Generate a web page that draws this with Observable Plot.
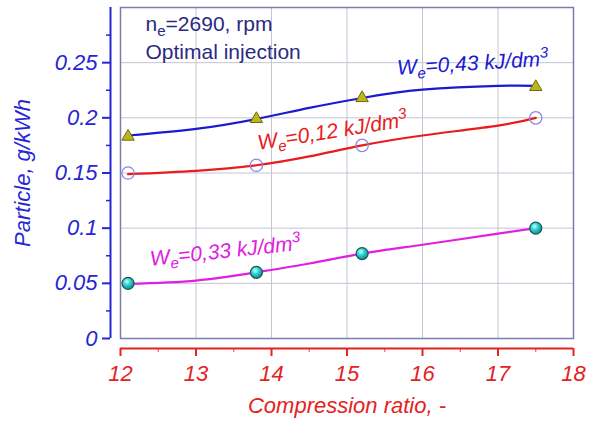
<!DOCTYPE html>
<html>
<head>
<meta charset="utf-8">
<script src="https://cdn.jsdelivr.net/npm/d3@7"></script>
<script src="https://cdn.jsdelivr.net/npm/@observablehq/plot@0.6"></script>
<style>
  html, body { margin: 0; padding: 0; background: #fff; }
  #chart { width: 597px; height: 421px; }
</style>
</head>
<body>
<div id="chart"></div>
<script>
// ---- data ----
const xMarkers = [12.1, 13.8, 15.2, 17.5];
const particle043 = [0.183, 0.199, 0.218, 0.228];
const particle012 = [0.150, 0.157, 0.175, 0.200];
const particle033 = [0.050, 0.060, 0.077, 0.100];

const xFit = [12.1, 13, 13.8, 14.5, 15.2, 16, 17, 17.5];
const fit043 = [0.184, 0.190, 0.199, 0.209, 0.218, 0.2255, 0.229, 0.229];
const fit012 = [0.149, 0.152, 0.157, 0.165, 0.175, 0.184, 0.193, 0.200];
const fit033 = [0.0495, 0.0525, 0.060, 0.068, 0.077, 0.085, 0.095, 0.100];

const xDomain = [12, 18];
const yDomain = [0, 0.3];
const xTicks = [12, 13, 14, 15, 16, 17, 18];
const xMinorTicks = [12.5, 13.5, 14.5, 15.5, 16.5, 17.5];
const yTicks = [0, 0.05, 0.1, 0.15, 0.2, 0.25];
const yTickLabels = ["0", "0.05", "0.1", "0.15", "0.2", "0.25"];
const yMinorTicks = [0.025, 0.075, 0.125, 0.175, 0.225, 0.275];

const seriesLabels = [
  {text: "W_e=0,43 kJ/dm^3", x: 15.67, y: 0.239, rotate: -3.5, color: "#1a1ad0"},
  {text: "W_e=0,12 kJ/dm^3", x: 13.83, y: 0.171, rotate: -9, color: "#e81c1c"},
  {text: "W_e=0,33 kJ/dm^3", x: 12.40, y: 0.066, rotate: -6, color: "#e020e0"}
];
const noteLines = ["n_e=2690, rpm", "Optimal injection"];
const xLabel = "Compression ratio, -";
const yLabel = "Particle, g/kWh";

// ---- tables ----
const pts = (ys) => xMarkers.map((x, i) => ({x, y: ys[i]}));
const fit = (ys) => xFit.map((x, i) => ({x, y: ys[i]}));

const FONT = "Liberation Sans, Arial, sans-serif";
const BLUE = "#2626d4";
const RED = "#e52222";
const GRID = "#c4c4d4";

const chart = Plot.plot({
  width: 597,
  height: 421,
  marginLeft: 120,
  marginRight: 24,
  marginTop: 7,
  marginBottom: 83,
  style: {fontFamily: FONT, background: "#fff", overflow: "visible"},
  x: {domain: xDomain, axis: null},
  y: {domain: yDomain, axis: null},
  marks: [
    Plot.gridX(xTicks.slice(1, -1), {stroke: GRID, strokeOpacity: 1, strokeWidth: 1}),
    Plot.gridY(yTicks.slice(1), {stroke: GRID, strokeOpacity: 1, strokeWidth: 1}),
    Plot.frame({stroke: "#7c7cae", strokeWidth: 1.5}),

    // y axis (offset left, blue)
    Plot.ruleX([xDomain[0]], {y1: yDomain[0], y2: yDomain[1], dx: -10, stroke: BLUE, strokeWidth: 2}),
    Plot.axisY(yTicks, {anchor: "left", dx: -10, tickSize: 8, tickPadding: 5, stroke: BLUE, strokeWidth: 2,
      tickFormat: (d) => yTickLabels[yTicks.indexOf(d)], fill: BLUE, fontSize: 22, fontStyle: "italic", label: null}),
    Plot.axisY(yMinorTicks, {anchor: "left", dx: -10, tickSize: 4, stroke: BLUE, strokeWidth: 1.5, text: null, label: null}),

    // x axis (offset down, red)
    Plot.ruleY([yDomain[0]], {x1: xDomain[0], x2: xDomain[1], dy: 10, stroke: RED, strokeWidth: 2}),
    Plot.axisX(xTicks, {anchor: "bottom", dy: 10, tickSize: 8, tickPadding: 9, stroke: RED, strokeWidth: 2,
      tickFormat: (d) => String(d), fill: RED, fontSize: 22, fontStyle: "italic", label: null}),
    Plot.axisX(xMinorTicks, {anchor: "bottom", dy: 10, tickSize: 4, stroke: RED, strokeWidth: 1.2, strokeOpacity: 0.7, text: null, label: null}),

    // axis titles
    Plot.text([yLabel], {frameAnchor: "left", dx: -98, rotate: -90, fill: BLUE, fontSize: 22, fontStyle: "italic", textAnchor: "middle", lineAnchor: "middle"}),
    Plot.text([xLabel], {frameAnchor: "bottom", dy: 67, fill: RED, fontSize: 22, fontStyle: "italic", textAnchor: "middle", lineAnchor: "middle"}),

    // notes
    Plot.text([noteLines[0]], {frameAnchor: "top-left", dx: 25, dy: 9, fill: "#2a2a80", fontSize: 21, textAnchor: "start", lineAnchor: "top"}),
    Plot.text([noteLines[1]], {frameAnchor: "top-left", dx: 25, dy: 37, fill: "#2a2a80", fontSize: 21, textAnchor: "start", lineAnchor: "top"}),

    // fitted lines
    Plot.line(fit(fit043), {x: "x", y: "y", curve: "natural", stroke: "#1a1ad0", strokeWidth: 2.2}),
    Plot.line(fit(fit012), {x: "x", y: "y", curve: "natural", stroke: "#e81c1c", strokeWidth: 2.2}),
    Plot.line(fit(fit033), {x: "x", y: "y", curve: "natural", stroke: "#e020e0", strokeWidth: 2.2}),

    // markers
    Plot.dot(pts(particle043), {x: "x", y: "y", symbol: "triangle", r: 4.6, fill: "#bdb51c", stroke: "#6e6a10", strokeWidth: 1}),
    Plot.dot(pts(particle012), {x: "x", y: "y", symbol: "circle", r: 6.2, fill: "none", stroke: "#8a8ade", strokeWidth: 1.3}),
    Plot.dot(pts(particle033), {x: "x", y: "y", symbol: "circle", r: 6, fill: "url(#sphere)", stroke: "#1c5858", strokeWidth: 1.2}),

    // series labels
    ...seriesLabels.map((s) => Plot.text([s], {x: "x", y: "y", text: "text", rotate: s.rotate, fill: s.color,
      fontSize: 21, fontStyle: "italic", textAnchor: "start", lineAnchor: "bottom"}))
  ]
});

// gradient for the sphere markers
const defs = d3.select(chart).insert("defs", ":first-child");
const g = defs.append("radialGradient").attr("id", "sphere").attr("cx", "40%").attr("cy", "35%").attr("r", "65%");
g.append("stop").attr("offset", "0%").attr("stop-color", "#c8ffff");
g.append("stop").attr("offset", "45%").attr("stop-color", "#30d4d4");
g.append("stop").attr("offset", "100%").attr("stop-color", "#108a8a");

// subscripts (_x) and superscripts (^x) as real tspans
d3.select(chart).selectAll("text").each(function () {
  const el = this;
  if (el.querySelector("tspan")) {
    el.querySelectorAll("tspan").forEach((t) => fix(t));
  } else fix(el);
  function fix(node) {
    const s = node.textContent;
    if (!/[_^]/.test(s)) return;
    node.textContent = "";
    let i = 0, buf = "";
    const flush = () => { if (buf) { const t = document.createElementNS("http://www.w3.org/2000/svg", "tspan"); t.textContent = buf; node.appendChild(t); buf = ""; } };
    while (i < s.length) {
      const c = s[i];
      if ((c === "_" || c === "^") && i + 1 < s.length) {
        flush();
        const t = document.createElementNS("http://www.w3.org/2000/svg", "tspan");
        t.textContent = s[i + 1];
        t.setAttribute("font-size", "0.72em");
        t.setAttribute("dy", c === "_" ? "0.32em" : "-0.55em");
        node.appendChild(t);
        const back = document.createElementNS("http://www.w3.org/2000/svg", "tspan");
        back.setAttribute("dy", c === "_" ? "-0.23em" : "0.4em");
        i += 2;
        let rest = "";
        while (i < s.length && s[i] !== "_" && s[i] !== "^") { rest += s[i]; i++; }
        back.textContent = rest;
        node.appendChild(back);
      } else { buf += c; i++; }
    }
    flush();
  }
});

document.getElementById("chart").appendChild(chart);
</script>
</body>
</html>
